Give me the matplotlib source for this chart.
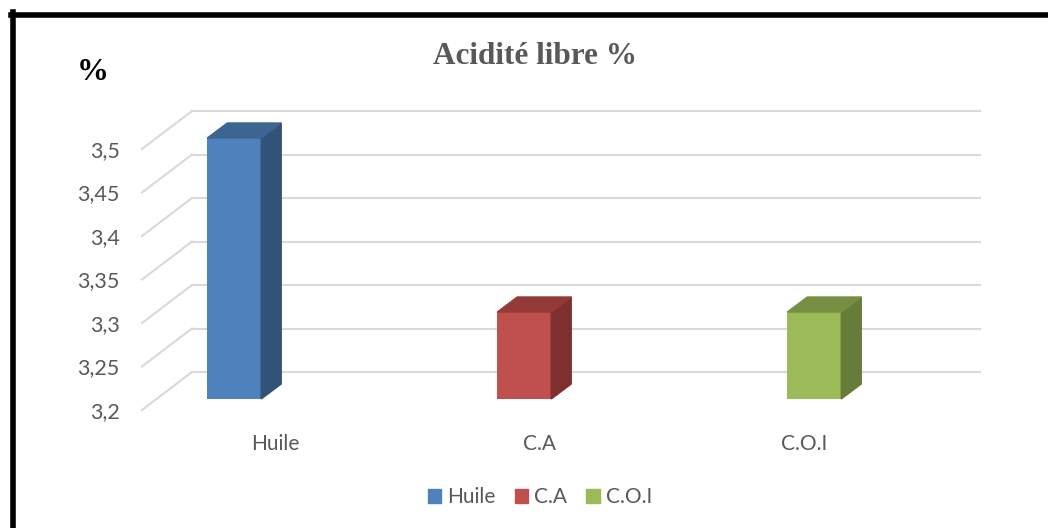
import numpy as np
import matplotlib.pyplot as plt
from matplotlib.patches import Polygon, Patch
from matplotlib.lines import Line2D

# Datos
categorias = ['Huile', 'C.A', 'C.O.I']
valores = [3.5, 3.3, 3.3]
yticks = [3.2, 3.25, 3.3, 3.35, 3.4, 3.45, 3.5]
ytick_labels = ['3,2', '3,25', '3,3', '3,35', '3,4', '3,45', '3,5']

# Colores (cara frontal, lateral, superior)
c_frente = ['#4f81bd', '#c0504d', '#9bbb59']
c_lado = ['#325277', '#7e302e', '#677c39']
c_tope = ['#3d6592', '#943b39', '#788f43']

gris = '#595959'
linea = '#d9d9d9'
plt.rcParams['font.family'] = ['Lato', 'DejaVu Sans']

W, H = 1048, 528
fig = plt.figure(figsize=(W / 100, H / 100), dpi=100)

# ejes: plano frontal
x0, x1 = 142, 930
y_top, y_bot = 149, 410
ax = fig.add_axes([x0 / W, (H - y_bot) / H, (x1 - x0) / W, (y_bot - y_top) / H])
xmin, xmax = -0.268, 2.449
ymin, ymax = 3.2, 3.5
ax.set_xlim(xmin, xmax)
ax.set_ylim(ymin, ymax)

px_x = (x1 - x0) / (xmax - xmin)
px_y = (y_bot - y_top) / (ymax - ymin)


def px(dx, dy):
    return dx / px_x, dy / px_y


# pared del fondo y lineas diagonales
bdx, bdy = px(50, 38)
for v in yticks:
    ax.plot([xmin, xmin + bdx], [v, v + bdy], color=linea, lw=1.5, clip_on=False, zorder=1)
    ax.plot([xmin + bdx, xmax + bdx], [v + bdy, v + bdy], color=linea, lw=1.5, clip_on=False, zorder=1)

# barras 3D
fdx, fdy = px(14.5, 11)
ddx, ddy = px(20, 15)
ancho = 0.186
x = np.arange(len(categorias))
for i, v in enumerate(valores):
    xl = x[i] + fdx - ancho / 2
    xr = x[i] + fdx + ancho / 2
    b = ymin + fdy
    t = v + fdy
    ax.bar(x[i] + fdx, v - ymin, bottom=b, width=ancho, color=c_frente[i], clip_on=False, zorder=3)
    ax.add_patch(Polygon([(xr, b), (xr + ddx, b + ddy), (xr + ddx, t + ddy), (xr, t)],
                         closed=True, color=c_lado[i], clip_on=False, zorder=3))
    ax.add_patch(Polygon([(xl, t), (xr, t), (xr + ddx, t + ddy), (xl + ddx, t + ddy)],
                         closed=True, color=c_tope[i], clip_on=False, zorder=3))

# etiquetas
ax.set_yticks(yticks)
ax.set_yticklabels(ytick_labels, color=gris, fontsize=15.5)
ax.set_xticks(x * 0.912 + 0.19)
ax.set_xticklabels(categorias, color=gris, fontsize=15)
ax.tick_params(axis='y', length=0, pad=16)
ax.tick_params(axis='x', length=0, pad=17)
for s in ax.spines.values():
    s.set_visible(False)

fig.text(535 / W, 1 - 56 / H, 'Acidité libre %', family='Liberation Serif', fontweight='bold',
         fontsize=22.5, color=gris, ha='center', va='center')
fig.text(93 / W, 1 - 72 / H, '%', family='Liberation Serif', fontweight='bold',
         fontsize=23, color='black', ha='center', va='center')

# leyenda
handles = [Patch(color=c) for c in c_frente]
fig.legend(handles, categorias, loc='center', bbox_to_anchor=(540 / W, 1 - 497 / H), ncol=3,
           frameon=False, handlelength=0.65, handleheight=0.65, handletextpad=0.3,
           columnspacing=0.9, fontsize=15, labelcolor=gris)

# marco negro
fig.add_artist(Line2D([13 / W, 13 / W], [0, 1 - 12 / H], color='black', lw=4))
fig.add_artist(Line2D([11 / W, 1], [1 - 14.5 / H, 1 - 14.5 / H], color='black', lw=4))

fig.savefig('out.png', dpi=100)
